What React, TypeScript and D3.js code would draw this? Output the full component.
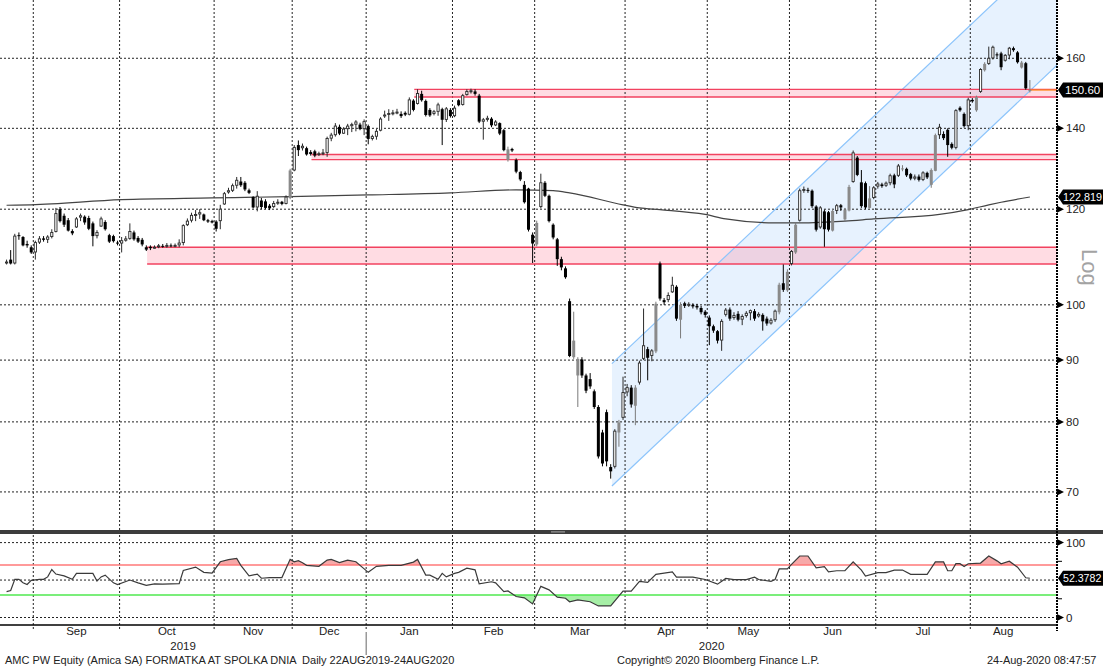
import React from 'react';
import * as d3 from 'd3';

// ---------- DATA ----------
const opens = [
  108.3, 109, 108.3, 114.2, 113.8, 112.3, 111.6, 110.6, 112.7, 113.5,
  113.3, 113.9, 115, 120, 118.5, 117.5, 115.1, 116, 118.2, 118.3,
  118, 116.8, 114.1, 116.2, 117.1, 114.2, 114, 112.6, 112.5, 113.1,
  113.5, 114.8, 113.6, 113.2, 111.6, 111.7, 111.6, 111.7, 111.9, 111.8,
  112, 111.9, 112.1, 112.6, 116.5, 117.5, 118.7, 118.9, 118.8, 117.5,
  117.3, 117.2, 117.4, 121.2, 124, 124.4, 125.6, 126.5, 126.2, 124.4,
  122.8, 120.5, 122, 121.8, 120.8, 120.6, 121.5, 121.7, 121.3, 122.6,
  129.3, 135.6, 134.9, 134.8, 133.8, 134, 133.2, 133.5, 133.7, 137.4,
  138.3, 140.4, 138.7, 139.9, 140.7, 141.1, 141, 139.9, 140.6, 137.3,
  137.9, 139.5, 143.4, 143.8, 144.1, 144.3, 143.9, 144.2, 143.8, 147.6,
  146.8, 149.5, 147.5, 145, 144, 144.6, 145.2, 142.4, 145, 143.4,
  147.7, 146.5, 149.3, 150.3, 150.2, 149, 141.9, 142.4, 142.6, 140.9,
  141.4, 139.5, 131.8, 134.6, 131.8, 128.8, 125.7, 124.8, 114.3, 112.2,
  120.6, 126.2, 123.1, 116.5, 113.3, 109.1, 107.2, 100.7, 90.5, 87.4,
  90.1, 87.4, 86.8, 84.8, 82.3, 78.4, 81.5, 73.4, 73.5, 78.4,
  80.7, 84.7, 85.4, 82.5, 86.3, 90.3, 91.9, 90.8, 91.5, 108.2,
  100.9, 101, 102.5, 103.5, 97.2, 100.3, 99.9, 100, 99.8, 99.4,
  98.7, 97.6, 96, 95.1, 93.5, 98.2, 99.1, 97.6, 98.3, 97.3,
  98, 98.5, 98.8, 97.9, 98.1, 97.4, 96.6, 97.2, 98.6, 104.2,
  102.8, 108.2, 110.5, 117.5, 124.4, 124.5, 124.3, 120.6, 116, 119.5,
  119.3, 115.2, 119.7, 120.9, 117.7, 119.7, 126.5, 132.4, 126.3, 126.1,
  120.3, 122.7, 125.4, 125.8, 125.6, 126.2, 128, 128, 129.5, 129.6,
  128.3, 127.3, 127.7, 127, 128.6, 125.7, 129.1, 138.3, 138.5, 139.6,
  135.9, 135, 145.6, 143.9, 140.7, 147.8, 144.9, 150.2, 156.4, 158.4,
  160.1, 161.2, 161.5, 159.4, 161, 163.1, 161.8, 157.2, 158.5, 150.3,
];
const highs = [
  109, 111, 114.5, 114.8, 114, 113, 112, 113, 114, 114,
  114.2, 115.5, 120.3, 120.5, 119, 118, 115.5, 118.2, 119, 118.6,
  118.5, 117.2, 115.3, 118.3, 117.5, 114.5, 114.3, 113, 113.8, 114,
  116.8, 115.2, 114, 113.6, 112, 112, 112, 112.3, 112.3, 112.5,
  112.4, 112.4, 113.3, 116.6, 117.9, 119.2, 119.8, 120, 119, 117.8,
  117.6, 117.5, 121, 124, 125, 126, 127.6, 127.6, 126.6, 124.8,
  123, 124.2, 122.6, 122.3, 121.2, 121.9, 122.3, 121.9, 123.2, 129.6,
  135.6, 136.8, 136, 135.2, 134.3, 134.4, 133.9, 134.6, 137.8, 138.8,
  141.4, 141, 140.3, 141.2, 141.5, 142.2, 141.5, 142.4, 141, 138.3,
  139.8, 143, 144.8, 145.2, 145, 145.3, 144.6, 144.6, 148.5, 148,
  150.8, 150.4, 147.9, 145.5, 145, 147, 145.6, 145.8, 145.5, 146.2,
  148, 149.5, 150.8, 151, 150.8, 149.5, 142.8, 143.4, 143, 142.2,
  141.6, 139.8, 135.2, 134.9, 132.2, 129.1, 126.6, 125, 114.8, 117.4,
  128.4, 126.6, 123.4, 116.8, 113.6, 109.6, 107.6, 101.2, 98.7, 90.5,
  90.5, 87.7, 87.8, 85.1, 82.6, 78.8, 81.9, 73.8, 78.9, 80.3,
  87.2, 86, 85.8, 85.8, 89.9, 99.3, 92.3, 91.9, 100.6, 108.6,
  101.3, 102.4, 105.5, 103.8, 100.5, 100.6, 100.5, 100.3, 100.2, 99.8,
  99, 98, 96.3, 95.3, 97.3, 99.4, 99.5, 98.6, 98.8, 98.2,
  98.8, 99.1, 99.2, 98.6, 98.4, 97.8, 97.5, 99.1, 104.3, 108,
  107, 111, 117, 124.8, 125.3, 125, 124.6, 120.9, 120.7, 119.9,
  119.6, 120, 121.2, 121.2, 120.3, 125.7, 134.2, 132.8, 129.3, 126.5,
  125.4, 125.4, 126.4, 126.2, 126.5, 128.4, 128.4, 130.8, 130.5, 129.9,
  128.6, 128.2, 128.2, 129, 128.9, 129.7, 138.6, 141.2, 139.2, 140,
  136.3, 145.2, 146, 144.3, 148.4, 148.3, 149, 157, 158.8, 163.6,
  163.9, 161.8, 162, 161.3, 163.5, 163.6, 162.2, 159.2, 158.9, 153.5,
];
const lows = [
  108, 108, 108, 113.2, 111.8, 111.5, 110.2, 109, 112.3, 112.8,
  112.5, 113.5, 114.8, 117, 116, 115, 114.2, 115.8, 117.3, 116.5,
  115.3, 111.8, 113.5, 116, 115.2, 112.5, 112.6, 112, 110.5, 112.8,
  113.2, 113, 112.5, 111.8, 110.8, 111, 111.3, 111.4, 111.5, 111.5,
  111.6, 111.6, 111.6, 112, 116.2, 117, 117.3, 117.8, 117.3, 116.9,
  116.8, 115, 115.5, 121, 123.6, 124, 124.8, 125.2, 124.2, 123.5,
  120.2, 119.5, 120, 120, 119.8, 120.3, 121, 120.9, 121.1, 122.3,
  129, 132.8, 134.2, 132.9, 132.9, 132.5, 132.8, 133, 132.6, 136.6,
  137.8, 138.2, 138.5, 138.2, 139, 139.2, 139.5, 138.2, 135.8, 136.8,
  137, 139.2, 142.8, 142, 143.5, 143.8, 142.8, 143.3, 143.5, 144.6,
  146.5, 147.3, 143.2, 143.1, 143.5, 143.4, 135.6, 141.7, 142.9, 143,
  146, 146.2, 149, 149.6, 149, 141.4, 137, 141.8, 140.3, 140.6,
  138.2, 134, 131.4, 133.8, 128.5, 126.6, 121.3, 115, 108.3, 111.8,
  120.2, 122.8, 117, 113.3, 107.7, 106.8, 105.1, 90.5, 90.2, 82.3,
  87, 84.5, 85.2, 82, 74.6, 73.5, 73.5, 71.8, 73.2, 76.3,
  80.3, 84, 82.2, 79.5, 85.9, 90, 86.6, 89.8, 91.2, 100.8,
  100, 100.5, 102.3, 97, 93.8, 99.4, 99.6, 99.3, 99.1, 98.2,
  97.6, 92.6, 94.8, 92.9, 91.6, 97.8, 97, 97.2, 96.9, 96.2,
  97.6, 97.1, 97, 97.6, 95.2, 96.1, 96.3, 96.8, 98.2, 102.5,
  102.5, 107.8, 110.2, 117.2, 123.8, 123.8, 120.3, 115, 115.6, 111.7,
  115, 115, 118.9, 119.6, 117.3, 119.5, 126.2, 127.8, 120.3, 120,
  120.2, 122.3, 124.8, 125, 125.2, 125.6, 124.9, 127.6, 129, 127.6,
  126.8, 126.8, 126.5, 126.6, 127.1, 125, 129, 137.2, 136.9, 132.6,
  134.5, 134.5, 144.5, 140.2, 139.5, 147, 144.5, 149.8, 156, 158,
  159.6, 160.2, 156.4, 159, 159.7, 162, 158.4, 156.9, 150.7, 149.9,
];
const closes = [
  108.5, 108.2, 114, 114.0, 112, 112.0, 110.5, 112.6, 113.4, 113.2,
  113.8, 114.8, 119, 117.3, 116.5, 115.2, 114.6, 117.8, 118.5, 117,
  115.6, 114, 114.8, 117.8, 115.5, 112.8, 112.9, 112.4, 113, 113.4,
  115, 113.3, 112.8, 112.2, 111.1, 111.4, 111.6, 111.9, 111.7, 112,
  111.8, 112, 112.5, 116.3, 117.3, 118.6, 118.8, 119.2, 117.5, 117.2,
  117.0, 115.6, 120, 123.6, 124.3, 125.5, 126.8, 125.6, 124.6, 123.8,
  120.4, 123, 120.5, 120.3, 120.2, 121.3, 121.6, 121.2, 122.8, 129.2,
  135, 134.3, 135.3, 133.2, 133.3, 132.9, 133.4, 133.6, 137.3, 138.2,
  140.6, 138.6, 139.8, 140.6, 141, 141.7, 139.8, 141.8, 137.2, 137.8,
  139.2, 142.5, 143.6, 144.0, 144.2, 144.4, 143.3, 143.7, 147.8, 145,
  149.6, 147.7, 143.6, 143.5, 144.5, 146.4, 142.3, 145.3, 143.3, 145.5,
  146.3, 149, 150.2, 150.4, 149.5, 141.8, 142.3, 142.7, 140.8, 141.7,
  138.6, 134.3, 134.5, 134.2, 128.9, 127, 121.6, 115.4, 112.4, 116.9,
  126.2, 123.1, 117.3, 113.7, 109.1, 107.4, 105.4, 90.7, 93.4, 90.2,
  87.4, 84.9, 85.6, 82.3, 74.9, 73.9, 74.2, 72.8, 78.6, 79.9,
  84.6, 85.4, 82.7, 85.4, 89.5, 92.5, 90.4, 91.6, 100.2, 101.2,
  100.5, 101.8, 103.8, 97.4, 100, 99.8, 100.1, 99.7, 99.5, 98.6,
  98.1, 96, 95.2, 93.4, 96.9, 99, 97.4, 98, 97.2, 97.8,
  98.4, 98.9, 97.4, 98.2, 96.9, 96.5, 97.1, 98.8, 103.9, 102.9,
  106.5, 110.7, 116.5, 124.3, 124.6, 124.3, 120.7, 115.4, 120.3, 115.5,
  115.4, 119.6, 120.8, 120.4, 119.9, 125.2, 133.6, 128.1, 120.7, 120.4,
  122.5, 125, 125.9, 125.4, 126.1, 127.9, 125.8, 130.3, 129.7, 128,
  127.2, 127.6, 126.9, 128.6, 127.5, 129.3, 138.2, 140.3, 137.4, 135.6,
  134.9, 144.8, 144.9, 140.6, 147.8, 147.4, 148.6, 156.6, 158.3, 160.0,
  163.4, 160.9, 157.3, 160.9, 163.1, 162.5, 158.8, 158.7, 151.1, 150.6,
];

// 200-day moving average, read at knots (trading-day index, value)
const maIdx = [0, 6, 28, 50, 69, 88, 108, 124, 133, 137, 150, 154, 159, 170, 175, 187, 193, 204, 211, 227, 234, 239, 242, 249];
const maVal = [120.9, 121.0, 122.2, 122.6, 122.9, 123.3, 123.8, 124.5, 124.3, 123.8, 121.0, 120.3, 119.9, 118.8, 117.8, 116.9, 116.9, 117.3, 117.8, 118.8, 119.9, 121.0, 121.6, 122.819];

// RSI, read at knots (trading-day index, value)
const rsiIdx = [0, 1, 2, 3, 4, 5, 6, 8, 9, 10, 11, 12, 14, 16, 17, 21, 22, 23, 24, 26, 27, 30, 32, 34, 36, 38, 42, 43, 46, 48, 50, 52, 54, 56, 57, 59, 61, 62, 64, 67, 69, 70, 71, 72, 73, 76, 78, 79, 81, 83, 85, 88, 90, 93, 96, 99, 100, 102, 103, 105, 106, 107, 109, 110, 112, 114, 115, 118, 119, 121, 122, 124, 126, 128, 130, 132, 134, 136, 137, 139, 142, 144, 147, 150, 152, 154, 156, 158, 162, 163, 167, 170, 173, 175, 177, 180, 182, 183, 186, 187, 188, 190, 191, 193, 195, 197, 199, 200, 202, 204, 206, 208, 209, 212, 214, 216, 218, 220, 224, 226, 228, 229, 230, 231, 232, 233, 234, 237, 239, 241, 242, 244, 246, 248, 249];
const rsiVal = [34.6, 36, 51, 51, 46.3, 44, 49.6, 51, 51, 54.2, 64, 58, 55.6, 51, 58.9, 58.9, 48.6, 54.2, 56.6, 46.3, 44, 50, 46.3, 43, 44.9, 44.5, 45.3, 62.7, 67.3, 60.3, 59.4, 74.4, 77.2, 79, 69.7, 55.6, 58, 52.4, 53.3, 53.3, 77.6, 74.4, 75.8, 73, 69.7, 68.3, 76.7, 77.6, 73.4, 76.7, 74.4, 60.3, 68.3, 69.7, 69.7, 74, 77.6, 56.6, 56.6, 51, 58.9, 54.2, 58.9, 60.3, 65.9, 63.6, 44.9, 47.7, 46.3, 34.6, 35.5, 28, 26.2, 18.2, 41.6, 36.9, 27.1, 25.7, 21, 23.4, 21, 15.4, 15.4, 35.1, 35.1, 48.3, 46.9, 57.7, 61, 53.9, 53.9, 50.7, 44.5, 52.1, 50.7, 50.7, 53.9, 50.7, 48.3, 50.7, 64.8, 64.8, 70.9, 82.1, 82.1, 66.2, 68, 61, 62.4, 62.4, 74.2, 63.3, 55.3, 60, 60, 63.3, 63.3, 57.7, 57.7, 74.2, 74.2, 62.4, 62.4, 71.8, 71.8, 68, 71.8, 72.7, 82.1, 75.6, 71.8, 75.1, 67.1, 53, 52.3782];

// support / resistance bands (start index, low, high price)
const bandStart = [99.2, 74.2, 34.2];
const bandLow = [148.6, 131.9, 108.1];
const bandHigh = [150.8, 133.2, 111.6];

// rising channel (index at both ends, lower and upper prices)
const channelIdx = [147.3, 255.6];
const channelLower = [70.8, 157.9];
const channelUpper = [89.4, 199.2];

const monthStarts = [7, 28, 51, 70, 88, 109, 129, 151, 171, 191, 212, 235];
const monthNames = ['Sep', 'Oct', 'Nov', 'Dec', 'Jan', 'Feb', 'Mar', 'Apr', 'May', 'Jun', 'Jul', 'Aug'];
const yearNames = ['2019', '2020'];
const yearFrom = [-1.6, 87.5];
const yearTo = [87.5, 255.6];
const priceTicks = [70, 80, 90, 100, 120, 140, 160];
const rsiGrid = [0, 50, 100];
const rsiLabels = [0, 100];
const rsiMinorTicks = [25, 75];
const rsiUpper = 70;
const rsiLower = 30;
const lastPrice = 150.6;
const lastMA = 122.819;
const lastRSI = 52.3782;

const footerLeft = 'AMC PW Equity (Amica SA) FORMATKA AT SPOLKA DNIA  Daily 22AUG2019-24AUG2020';
const footerMid = 'Copyright\u00A9 2020 Bloomberg Finance L.P.';
const footerRight = '24-Aug-2020 08:47:57';

const FONT = '"Liberation Sans", Arial, sans-serif';

export default function App() {
  const PR = 1057;
  const MAIN_B = 530;
  const RSI_T = 535;
  const AX_Y = 625;
  const x = d3.scaleLinear().domain([-1.6, 255.6]).range([0, PR]);
  const y = d3.scaleLog().domain([65.1, 178.8]).range([MAIN_B, 0]);
  const yr = d3.scaleLinear().domain([0, 100]).range([617.5, 542.6]);

  const n = closes.length;
  const idx = d3.range(n);

  const maPath = d3.line<number>()
    .x((i) => x(maIdx[i]))
    .y((i) => y(maVal[i]))
    .curve(d3.curveMonotoneX)(d3.range(maIdx.length)) || '';

  const rsiPts: [number, number][] = rsiIdx.map((d, i) => [x(d), yr(rsiVal[i])]);
  const rsiPath = d3.line()(rsiPts) || '';
  const rsiHiArea = d3.area().x((d) => d[0]).y0(yr(rsiUpper)).y1((d) => d[1])(rsiPts) || '';
  const rsiLoArea = d3.area().x((d) => d[0]).y0(yr(rsiLower)).y1((d) => d[1])(rsiPts) || '';

  const chPoly = [
    [x(channelIdx[0]), y(channelLower[0])],
    [x(channelIdx[1]), y(channelLower[1])],
    [x(channelIdx[1]), y(channelUpper[1])],
    [x(channelIdx[0]), y(channelUpper[0])],
  ];
  const chPath = 'M' + chPoly.map((p) => p.join(',')).join('L') + 'Z';

  const tag = (cy: number) =>
    `M${PR + 1},${cy} L${PR + 6},${cy - 7.5} H1110 V${cy + 7.5} H${PR + 6} Z`;
  const tri = (cy: number) => `M${PR},${cy - 3.5} L${PR + 7},${cy} L${PR},${cy + 3.5} Z`;

  return (
    <svg
      width={1103}
      height={667}
      style={{ position: 'absolute', left: 0, top: 0, background: '#fff' }}
      fontFamily={FONT}
    >
      <defs>
        <clipPath id="mainClip">
          <rect x={0} y={0} width={PR} height={MAIN_B} />
        </clipPath>
        <clipPath id="rsiHiClip">
          <rect x={0} y={RSI_T} width={PR} height={yr(rsiUpper) - RSI_T} />
        </clipPath>
        <clipPath id="rsiLoClip">
          <rect x={0} y={yr(rsiLower)} width={PR} height={AX_Y - yr(rsiLower)} />
        </clipPath>
      </defs>
      <rect x={0} y={0} width={1103} height={667} fill="#fff" />

      {/* ---------- main panel ---------- */}
      <g clipPath="url(#mainClip)">
        <path d={chPath} fill="#e7f2fe" />
        {bandStart.map((s, k) => (
          <rect
            key={'bf' + k}
            x={x(s)}
            y={y(bandHigh[k])}
            width={PR - x(s)}
            height={y(bandLow[k]) - y(bandHigh[k])}
            fill="rgba(255,130,155,0.28)"
          />
        ))}
        {priceTicks.map((t) => (
          <line key={'hg' + t} x1={0} x2={PR} y1={y(t)} y2={y(t)} stroke="#222" strokeWidth={1} strokeDasharray="2,2" />
        ))}
        {monthStarts.map((m) => (
          <line key={'vg' + m} x1={x(m - 0.5)} x2={x(m - 0.5)} y1={0} y2={MAIN_B} stroke="#222" strokeWidth={1} strokeDasharray="2,2" />
        ))}
        <line x1={chPoly[0][0]} y1={chPoly[0][1]} x2={chPoly[1][0]} y2={chPoly[1][1]} stroke="#8cc4fb" strokeWidth={1.2} />
        <line x1={chPoly[3][0]} y1={chPoly[3][1]} x2={chPoly[2][0]} y2={chPoly[2][1]} stroke="#8cc4fb" strokeWidth={1.2} />
        {bandStart.map((s, k) => (
          <g key={'bl' + k}>
            <line x1={x(s)} x2={PR} y1={y(bandHigh[k])} y2={y(bandHigh[k])} stroke="#f2425f" strokeWidth={1.4} />
            <line x1={x(s)} x2={PR} y1={y(bandLow[k])} y2={y(bandLow[k])} stroke="#f2425f" strokeWidth={1.4} />
          </g>
        ))}
        <path d={maPath} fill="none" stroke="#444" strokeWidth={1.2} />
        <line x1={x(n - 1)} x2={PR} y1={y(lastPrice)} y2={y(lastPrice)} stroke="#ff8c1a" strokeWidth={1.2} />
        {idx.map((i) => {
          const o = opens[i];
          const c = closes[i];
          const up = c >= o;
          const gray = up && i > 0 && o <= closes[i - 1];
          const cx = x(i);
          const top = y(Math.max(o, c));
          const bot = y(Math.min(o, c));
          const h = Math.max(1, bot - top);
          const col = up ? (gray ? '#7a7a7a' : '#2a2a2a') : '#000';
          return (
            <g key={'c' + i}>
              <line x1={cx} x2={cx} y1={y(highs[i])} y2={y(lows[i])} stroke={col} strokeWidth={1} />
              {up && !gray ? (
                <rect x={cx - 1.1} y={top} width={2.2} height={h} fill="#fff" stroke={col} strokeWidth={0.9} />
              ) : (
                <rect x={cx - 1.5} y={top} width={3} height={h} fill={gray ? '#8a8a8a' : '#000'} />
              )}
            </g>
          );
        })}
      </g>

      {/* right axis main */}
      {priceTicks.map((t) => (
        <g key={'pt' + t}>
          <path d={tri(y(t))} fill="#000" />
          <text x={PR + 9} y={y(t)} dy="0.36em" fontSize={11.5} fill="#222">{t}</text>
        </g>
      ))}
      <text
        transform={`translate(1082,249) rotate(90)`}
        fontSize={22}
        fill="#a3a3a3"
      >Log</text>
      <path d={tag(y(lastPrice))} fill="#000" />
      <text x={PR + 8} y={y(lastPrice)} dy="0.36em" fontSize={11.5} fill="#fff">{lastPrice.toFixed(2)}</text>
      <path d={tag(y(lastMA))} fill="#000" />
      <text x={PR + 6} y={y(lastMA)} dy="0.36em" fontSize={10.8} fill="#fff">{lastMA.toFixed(3)}</text>

      {/* separator */}
      <rect x={0} y={530} width={1103} height={4} fill="#3d3d3d" />
      <rect x={551} y={531.3} width={14} height={1.2} fill="#9a9a9a" />

      {/* ---------- RSI panel ---------- */}
      <g clipPath="url(#rsiHiClip)">
        <path d={rsiHiArea} fill="#f7a9a9" />
      </g>
      <g clipPath="url(#rsiLoClip)">
        <path d={rsiLoArea} fill="#a6efa6" />
      </g>
      {rsiGrid.map((t) => (
        <line key={'rg' + t} x1={0} x2={PR} y1={yr(t)} y2={yr(t)} stroke="#222" strokeWidth={1} strokeDasharray="2,2" />
      ))}
      {monthStarts.map((m) => (
        <line key={'rv' + m} x1={x(m - 0.5)} x2={x(m - 0.5)} y1={RSI_T} y2={631} stroke="#222" strokeWidth={1} strokeDasharray="2,2" />
      ))}
      <line x1={0} x2={PR} y1={yr(rsiUpper)} y2={yr(rsiUpper)} stroke="#ff7878" strokeWidth={1.6} />
      <line x1={0} x2={PR} y1={yr(rsiLower)} y2={yr(rsiLower)} stroke="#4fe84f" strokeWidth={1.6} />
      <path d={rsiPath} fill="none" stroke="#3a3a3a" strokeWidth={1.2} />
      {rsiLabels.map((t) => (
        <g key={'rl' + t}>
          <path d={tri(yr(t))} fill="#000" />
          <text x={PR + 9} y={yr(t)} dy="0.36em" fontSize={11.5} fill="#222">{t}</text>
        </g>
      ))}
      {rsiMinorTicks.map((t) => (
        <line key={'rm' + t} x1={PR} x2={PR + 5} y1={yr(t)} y2={yr(t)} stroke="#000" strokeWidth={1} />
      ))}
      <path d={tag(yr(lastRSI))} fill="#000" />
      <text x={PR + 6} y={yr(lastRSI)} dy="0.36em" fontSize={10.6} fill="#fff">{lastRSI.toFixed(4)}</text>

      {/* axes lines */}
      <line x1={0} x2={PR} y1={AX_Y} y2={AX_Y} stroke="#000" strokeWidth={1.5} />
      <line x1={PR} x2={PR} y1={0} y2={631} stroke="#000" strokeWidth={2} strokeDasharray="2,1" />

      {/* month / year labels */}
      {monthStarts.map((m, k) => {
        const end = k < monthStarts.length - 1 ? monthStarts[k + 1] - 0.5 : n + 0.5;
        const mid = (m - 0.5 + end) / 2;
        return (
          <text key={'ml' + k} x={x(mid)} y={635} textAnchor="middle" fontSize={11.5} fill="#222">
            {monthNames[k]}
          </text>
        );
      })}
      {yearNames.map((yn, k) => (
        <text key={'yl' + k} x={x((yearFrom[k] + yearTo[k]) / 2)} y={650} textAnchor="middle" fontSize={11.5} fill="#222">
          {yn}
        </text>
      ))}
      <line x1={x(87.5)} x2={x(87.5)} y1={632} y2={655} stroke="#666" strokeWidth={1} />

      {/* footer */}
      <text x={5} y={664} fontSize={11} fill="#222" style={{ whiteSpace: 'pre' }}>{footerLeft}</text>
      <text x={617} y={664} fontSize={11} fill="#222">{footerMid}</text>
      <text x={987} y={664} fontSize={11} fill="#222">{footerRight}</text>
    </svg>
  );
}
